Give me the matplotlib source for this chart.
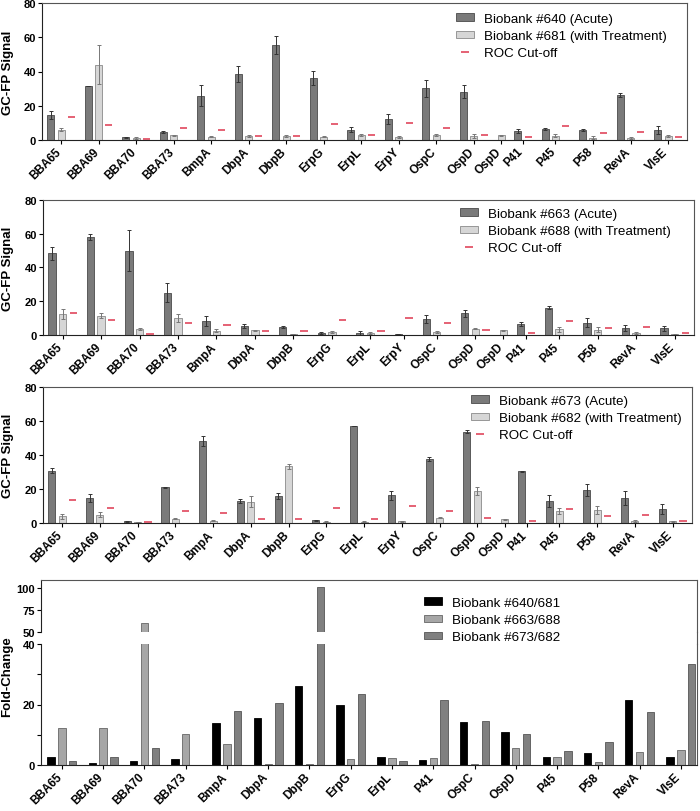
import numpy as np
import matplotlib.pyplot as plt
import matplotlib.transforms as mtransforms
from matplotlib.lines import Line2D
from matplotlib.patches import Patch

plt.rcParams['font.family'] = ['Liberation Sans', 'DejaVu Sans']

nan = np.nan

# antigens of the three GC-FP panels (OspD shows up twice in the original)
antigens = ["BBA65", "BBA69", "BBA70", "BBA73", "BmpA", "DbpA", "DbpB", "ErpG", "ErpL",
            "ErpY", "OspC", "OspD", "OspD", "P41", "P45", "P58", "RevA", "VlsE"]
roc_cutoff = [13.3, 8.7, 0.7, 6.8, 5.8, 2.2, 2.2, 9.0, 2.6, 10.0, 7.1, 2.8, nan, 1.4, 8.0, 4.0, 4.7, 1.4]

# panel 1: #640 acute / #681 treated
p640 = [14.5, 31.5, 1.3, 4.6, 25.8, 38.5, 55.5, 36.3, 5.9, 12.1, 30.1, 28.0, nan, 5.1, 6.5, 5.5, 26.2, 5.7]
p640_err = [2.6, 0.0, 0.5, 0.4, 6.0, 4.6, 5.2, 4.0, 1.4, 2.9, 4.9, 3.8, nan, 1.2, 0.6, 0.5, 1.0, 2.5]
p681 = [5.8, 44.0, 1.0, 2.5, 1.8, 2.2, 2.2, 1.7, 2.8, 1.5, 2.9, 2.2, 2.6, nan, 2.4, 1.2, 1.0, 2.2]
p681_err = [0.9, 11.5, 0.3, 0.4, 0.4, 0.4, 0.5, 0.4, 0.5, 0.6, 0.5, 1.4, 0.2, nan, 0.9, 0.9, 0.7, 0.6]

# panel 2: #663 acute / #688 treated
p663 = [48.2, 58.2, 49.8, 25.1, 8.4, 5.3, 4.9, 1.2, 1.2, 0.6, 9.5, 12.8, nan, 6.5, 16.0, 7.3, 4.1, 3.9]
p663_err = [4.0, 1.8, 12.0, 5.6, 3.0, 1.1, 0.5, 0.4, 1.2, 0.2, 2.2, 2.0, nan, 1.0, 0.9, 2.5, 1.6, 1.4]
p688 = [12.5, 11.4, 3.5, 10.0, 2.5, 2.7, 0.6, 1.8, 1.2, nan, 1.8, 3.7, 2.8, nan, 3.3, 3.0, 1.0, 0.4]
p688_err = [2.8, 1.6, 0.6, 2.3, 1.0, 0.4, 0.2, 0.5, 0.4, nan, 0.5, 0.3, 0.2, nan, 1.4, 1.5, 0.6, 0.2]

# panel 3: #673 acute / #682 treated
p673 = [30.8, 14.7, 1.0, 21.0, 48.2, 12.8, 15.8, 1.6, 56.8, 16.2, 37.5, 53.7, nan, 30.4, 12.9, 19.3, 14.6, 8.2]
p673_err = [1.7, 2.2, 0.4, 0.2, 2.8, 1.0, 1.6, 0.3, 0.0, 2.7, 1.1, 1.1, nan, 0.3, 3.7, 3.3, 3.9, 2.7]
p682 = [3.9, 4.9, 0.6, 2.5, 1.4, 12.5, 33.2, 0.8, 0.8, 1.0, 3.1, 18.7, 2.3, nan, 6.8, 7.4, 1.0, 1.0]
p682_err = [1.3, 1.6, 0.2, 0.4, 0.5, 3.2, 1.7, 0.2, 0.3, 0.4, 0.3, 2.2, 0.3, nan, 1.8, 2.4, 0.5, 0.4]

# fold-change panel
fc_antigens = ["BBA65", "BBA69", "BBA70", "BBA73", "BmpA", "DbpA", "DbpB", "ErpG",
               "ErpL", "P41", "OspC", "OspD", "P45", "P58", "RevA", "VlsE"]
fc_640_681 = [2.6, 0.8, 1.2, 1.9, 13.8, 15.6, 26.2, 19.8, 2.5, 1.6, 14.2, 11.0, 2.6, 4.0, 21.6, 2.6]
fc_663_688 = [12.3, 12.3, 60.0, 10.3, 6.9, 0.3, 0.2, 2.0, 2.4, 2.3, 0.4, 5.7, 2.5, 1.0, 4.3, 5.0]
fc_673_682 = [1.3, 2.7, 5.6, 0.0, 17.8, 20.5, 101.5, 23.6, 1.2, 21.6, 14.6, 10.3, 4.7, 7.6, 17.6, 33.5]

W, H = 700, 812
DARK, DARK_EDGE = "#7a7a7a", "#4a4a4a"
LIGHT, LIGHT_EDGE = "#d6d6d6", "#8a8a8a"
RED = "#e0475c"
BW = 0.68
GAP = 1.64

fig = plt.figure(figsize=(W / 100, H / 100), dpi=100)
label_shift = mtransforms.ScaledTranslation(-6 / 100, 0, fig.dpi_scale_trans)


def px_axes(left, top, right, bottom):
    return fig.add_axes([left / W, 1 - bottom / H, (right - left) / W, (bottom - top) / H])


def style_axes(ax):
    for s in ("left", "bottom"):
        ax.spines[s].set_color("#222222")
        ax.spines[s].set_linewidth(0.8)
    for s in ("top", "right"):
        ax.spines[s].set_color("#555555")
        ax.spines[s].set_linewidth(0.8)
    ax.tick_params(direction="out", length=3, width=0.8, pad=1.5)
    for lab in ax.get_yticklabels():
        lab.set_fontsize(8)
        lab.set_fontweight("bold")


def x_labels(ax, ticks, names):
    ax.set_xticks(ticks)
    ax.set_xticklabels(names, rotation=45, ha="right", va="top", rotation_mode="anchor",
                       fontsize=8.5, fontweight="bold")
    ax.tick_params(axis="x", pad=1)
    for lab in ax.get_xticklabels():
        lab.set_transform(lab.get_transform() + label_shift)


def slots(dark, light, roc):
    # missing values take no slot, so the group shrinks (as in the original)
    xd, xl, xr, ticks = [], [], [], []
    x = 0.0
    for d, l, r in zip(dark, light, roc):
        used = []
        for v, store in ((d, xd), (l, xl), (r, xr)):
            if np.isnan(v):
                store.append(nan)
            else:
                store.append(x)
                used.append(x)
                x += 1
        ticks.append(np.mean(used))
        x += GAP - 1
    return np.array(xd), np.array(xl), np.array(xr), np.array(ticks), x - GAP


def signal_panel(box, dark, dark_err, light, light_err, names, legend_xy):
    ax = px_axes(*box)
    dark, dark_err = np.array(dark), np.array(dark_err)
    light, light_err = np.array(light), np.array(light_err)
    roc = np.array(roc_cutoff)
    xd, xl, xr, ticks, last = slots(dark, light, roc)

    m = ~np.isnan(dark)
    ax.bar(xd[m], dark[m], BW, color=DARK, edgecolor=DARK_EDGE, linewidth=0.6,
           yerr=dark_err[m], error_kw=dict(ecolor="#333333", elinewidth=0.7, capsize=1.5, capthick=0.7))
    m = ~np.isnan(light)
    ax.bar(xl[m], light[m], BW, color=LIGHT, edgecolor=LIGHT_EDGE, linewidth=0.6,
           yerr=light_err[m], error_kw=dict(ecolor="#777777", elinewidth=0.7, capsize=1.5, capthick=0.7))
    m = ~np.isnan(roc)
    ax.hlines(roc[m], xr[m] - 0.34, xr[m] + 0.34, colors=RED, linewidth=1.2)

    ax.set_xlim(-0.82, last + 0.84)
    ax.set_ylim(0, 80)
    ax.set_yticks(range(0, 81, 20))
    style_axes(ax)
    x_labels(ax, ticks, antigens)
    fig.text(1.5 / W, 1 - (box[1] + box[3]) / 2 / H, "GC-FP Signal", rotation=90,
             ha="left", va="center", fontsize=9.5, fontweight="bold")

    handles = [Patch(facecolor=DARK, edgecolor=DARK_EDGE, linewidth=0.6),
               Patch(facecolor=LIGHT, edgecolor=LIGHT_EDGE, linewidth=0.6),
               Line2D([], [], color=RED, marker="_", linestyle="none", markersize=6, markeredgewidth=1.2)]
    lx, ly = legend_xy
    fig.legend(handles, names, loc="upper left", bbox_to_anchor=(lx / W, 1 - ly / H),
               frameon=False, fontsize=9.6, handlelength=1.35, handleheight=0.5,
               handletextpad=0.75, labelspacing=0.38, borderpad=0, borderaxespad=0)
    return ax


signal_panel((42.3, 4.3, 687, 140.7), p640, p640_err, p681, p681_err,
             ["Biobank #640 (Acute)", "Biobank #681 (with Treatment)", "ROC Cut-off"], (456, 14))
signal_panel((43.3, 200.7, 694, 336), p663, p663_err, p688, p688_err,
             ["Biobank #663 (Acute)", "Biobank #688 (with Treatment)", "ROC Cut-off"], (460, 209))
signal_panel((43.3, 387.7, 691.7, 524), p673, p673_err, p682, p682_err,
             ["Biobank #673 (Acute)", "Biobank #682 (with Treatment)", "ROC Cut-off"], (470.7, 396))

# fold-change panel with broken y axis
ax_hi = px_axes(41.3, 580.7, 697, 633)
ax_lo = px_axes(41.3, 645, 697, 766)
fc_x = np.arange(len(fc_antigens)) * 3.81
series = [(fc_640_681, "black", "black"), (fc_663_688, "#a6a6a6", "#666666"), (fc_673_682, "#808080", "#555555")]
for ax in (ax_hi, ax_lo):
    for k, (vals, fc, ec) in enumerate(series):
        ax.bar(fc_x + (k - 1), vals, BW, color=fc, edgecolor=ec, linewidth=0.6)
    ax.set_xlim(-1.9, fc_x[-1] + 1.49)

ax_hi.set_ylim(50, 109.4)
ax_hi.set_yticks([50, 75, 100])
ax_hi.spines["bottom"].set_visible(False)
style_axes(ax_hi)
ax_hi.tick_params(axis="x", bottom=False, labelbottom=False)

ax_lo.set_ylim(0, 40)
ax_lo.set_yticks([0, 20, 40])
ax_lo.set_yticks([10, 30], minor=True)
ax_lo.spines["top"].set_visible(False)
style_axes(ax_lo)
ax_lo.tick_params(axis="y", which="minor", length=3, width=0.8)
x_labels(ax_lo, fc_x, fc_antigens)

# right border runs through the break
fig.add_artist(Line2D([697 / W, 697 / W], [1 - 633 / H, 1 - 645 / H], color="#555555", linewidth=0.8))
fig.text(1.5 / W, 1 - 677 / H, "Fold-Change", rotation=90, ha="left", va="center",
         fontsize=9.5, fontweight="bold")

fc_handles = [Patch(facecolor=fc, edgecolor=ec, linewidth=0.6) for _, fc, ec in series]
fig.legend(fc_handles, ["Biobank #640/681", "Biobank #663/688", "Biobank #673/682"],
           loc="upper left", bbox_to_anchor=(424 / W, 1 - 598 / H), frameon=False, fontsize=9.6,
           handlelength=1.35, handleheight=0.5, handletextpad=0.75, labelspacing=0.38,
           borderpad=0, borderaxespad=0)

fig.savefig("out.png", dpi=100)
